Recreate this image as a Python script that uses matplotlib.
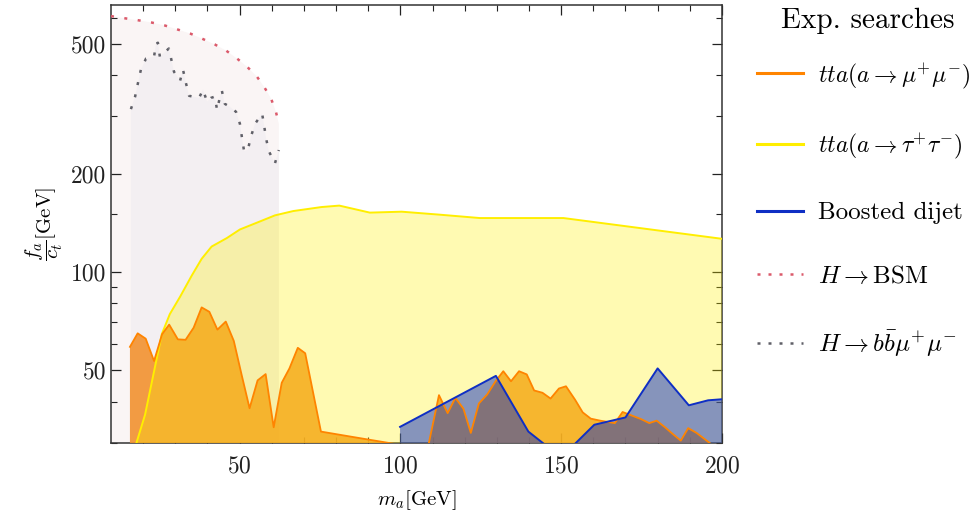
import numpy as np
import matplotlib
matplotlib.use("Agg")
import matplotlib.pyplot as plt
from matplotlib.lines import Line2D

plt.rcParams['font.family'] = 'serif'
plt.rcParams['font.serif'] = ['cmr10', 'DejaVu Serif']
plt.rcParams['mathtext.fontset'] = 'cm'
plt.rcParams['axes.formatter.use_mathtext'] = True

# H -> BSM bound (red dotted)
ma_bsm = [10, 14.7, 18.7, 22.7, 26.8, 30.8, 34.6, 38.3, 42.3, 45.8, 49.2, 52.3,
          55.4, 57.6, 59.8, 61.3, 62.2]
fa_bsm = [607, 597, 589, 580, 568, 552, 537, 518, 497, 476, 450, 425,
          396, 369, 339, 309, 284]

# H -> bb mu mu bound (grey dotted)
ma_bbmm = [16.2, 17.5, 18.4, 19.3, 20.9, 23.4, 24.0, 24.6, 25.2, 28.0, 28.7, 29.6,
           31.5, 32.4, 33.3, 34.3, 37.4, 38.6, 39.9, 41.1, 42.3, 43.0, 43.9, 44.5,
           45.4, 47.0, 48.9, 50.1, 50.7, 51.4, 52.6, 53.5, 54.8, 57.0, 57.6, 58.2,
           59.1, 61.0, 62.2]
fa_bbmm = [315, 344, 379, 416, 450, 456, 500, 503, 456, 483, 450, 410,
           385, 416, 379, 346, 341, 361, 332, 341, 344, 313, 344, 358,
           327, 320, 309, 284, 259, 234, 237, 259, 284, 305, 282, 257,
           234, 215, 236]

# tta(a -> mu mu)
ma_mumu = [15.9, 18.3, 20.8, 23.4, 25.9, 28.1, 30.8, 33.2, 35.7, 38.2, 40.6, 43.1,
           45.7, 48.2, 50.6, 53.1, 55.6, 58.1, 60.6, 63.1, 65.5, 68.1, 70.4, 75.3,
           84.3, 100, 106,
           112.0, 114.7, 117.1, 119.6, 121.9, 124.4, 127.0, 129.6, 132.0, 134.4, 136.9,
           139.3, 141.6, 144.2, 146.7, 149.3, 151.5, 154.3, 156.7, 159.2, 162.1, 166.7,
           169.1, 171.6, 174.8, 177.4, 179.7, 182.3, 184.8, 187.2, 189.5, 192.1, 196.2,
           200]
fa_mumu = [58.9, 64.8, 62.4, 53.3, 64.4, 68.9, 62.1, 61.9, 67.4, 77.8, 75.4, 66.5,
           70.4, 61.4, 48.5, 38.2, 46.5, 48.6, 33.4, 45.7, 50.6, 58.5, 56.3, 32.4,
           31.3, 29.5, 22,
           41.9, 36.9, 41.1, 38.1, 32.1, 39.5, 42.1, 46.2, 49.6, 46.2, 49.6,
           48.5, 43.3, 42.6, 40.9, 43.9, 44.6, 40.6, 37.1, 35.5, 35.0, 34.4,
           37.2, 36.4, 35.4, 34.4, 35.0, 33.4, 31.8, 30.4, 33.2, 32.1, 29.9,
           27.5]

# tta(a -> tau tau)
ma_tautau = [17.5, 20.6, 23.2, 25.8, 28.3, 31.5, 35.1, 38.2, 41.3, 46.0, 50.1, 56.3,
             61.0, 66.7, 75.5, 81.0, 90.5, 100.4, 112.3, 124.7, 137.2, 150.7, 200]
fa_tautau = [29, 36.5, 48.5, 64.4, 74.2, 83.9, 97.3, 109.6, 119.5, 126.8, 134.8, 142.6,
             148.9, 153.5, 157.9, 159.5, 151.8, 152.8, 149.6, 146.1, 146.1, 146.1, 126.2]

# Boosted dijet
ma_dijet = [99.9, 129.7, 139.8, 150, 160.3, 170.0, 180.0, 189.7, 195.7, 200]
fa_dijet = [33.5, 48.0, 32.4, 27, 34.0, 35.8, 50.6, 39.0, 40.4, 40.7]

c_orange = '#ff8400'
c_yellow = '#ffee00'
c_blue = '#0f2fc4'
c_red = '#db5a6b'
c_grey = '#606068'

fig = plt.figure(figsize=(9.76, 5.17), dpi=100)
ax = fig.add_axes([0.1137, 0.1441, 0.626, 0.8456])

# filled regions
ax.fill_between(ma_bsm, fa_bsm, 1, color='#faf5f5', lw=0, zorder=1)
ax.fill_between(ma_bbmm, fa_bbmm, 1, color='#f3eff2', lw=0, zorder=2)
ax.fill_between(ma_mumu, fa_mumu, 1, color='#f29230', alpha=0.9, lw=0, zorder=3)
ax.fill_between(ma_tautau, fa_tautau, 1, color='#fff000', alpha=0.3, lw=0, zorder=4)
ax.fill_between(ma_dijet, fa_dijet, 1, color=c_blue, alpha=0.5, lw=0, zorder=5)

# boundary lines
ax.plot(ma_tautau, fa_tautau, color=c_yellow, lw=1.4, zorder=6)
ax.plot(ma_mumu, fa_mumu, color=c_orange, lw=1.3, zorder=7)
ax.plot(ma_dijet, fa_dijet, color=c_blue, lw=1.4, zorder=8)
ax.plot(ma_bsm, fa_bsm, color=c_red, lw=1.8, ls=(0, (1.2, 4.2)), zorder=9)
ax.plot(ma_bbmm, fa_bbmm, color=c_grey, lw=1.8, ls=(0, (1.2, 3.8)), zorder=9)

ax.set_yscale('log')
ax.set_xlim(10, 200)
ax.set_ylim(30, 655)
ax.set_xticks([50, 100, 150, 200])
ax.set_xticks(np.arange(20, 200, 10), minor=True)
ax.set_yticks([50, 100, 200, 500])
ax.set_yticklabels(['50', '100', '200', '500'])
ax.set_yticks([30, 40, 60, 70, 80, 90, 150, 300, 400, 600], minor=True)
ax.yaxis.set_minor_formatter(matplotlib.ticker.NullFormatter())
ax.tick_params(which='both', direction='in', top=True, right=True, labelsize=17,
               colors='#222222')
ax.tick_params(which='major', length=7, width=0.9)
ax.tick_params(axis='x', which='major', pad=9)
ax.tick_params(which='minor', length=4, width=0.8)
for s in ax.spines.values():
    s.set_color('#333333')
    s.set_linewidth(1.1)

ax.set_xlabel(r'$m_a[\mathrm{GeV}]$', fontsize=15, labelpad=8)
ax.set_ylabel(r'$\dfrac{f_a}{c_t}[\mathrm{GeV}]$', fontsize=15, labelpad=4)

handles = [Line2D([], [], color=c_orange, lw=2.2),
           Line2D([], [], color=c_yellow, lw=2.2),
           Line2D([], [], color=c_blue, lw=2.2),
           Line2D([], [], color=c_red, lw=1.8, ls=(0, (1.2, 3.2))),
           Line2D([], [], color=c_grey, lw=1.8, ls=(0, (1.2, 3.2)))]
labels = [r'$tta(a\to\mu^{+}\mu^{-})$', r'$tta(a\to\tau^{+}\tau^{-})$',
          'Boosted dijet', r'$H\to\mathrm{BSM}$', r'$H\to b\bar{b}\mu^{+}\mu^{-}$']
fig.text(0.889, 1 - 21 / 517, 'Exp. searches', ha='center', va='center', fontsize=21)
leg = ax.legend(handles, labels, loc='upper left', bbox_to_anchor=(0.7756, 0.882),
                bbox_transform=fig.transFigure, frameon=False, fontsize=18,
                handlelength=1.85, handletextpad=0.6, labelspacing=1.62,
                borderaxespad=0, borderpad=0)
for t in leg.get_texts()[:2]:
    t.set_fontsize(17)

fig.savefig('out.png', dpi=100)
